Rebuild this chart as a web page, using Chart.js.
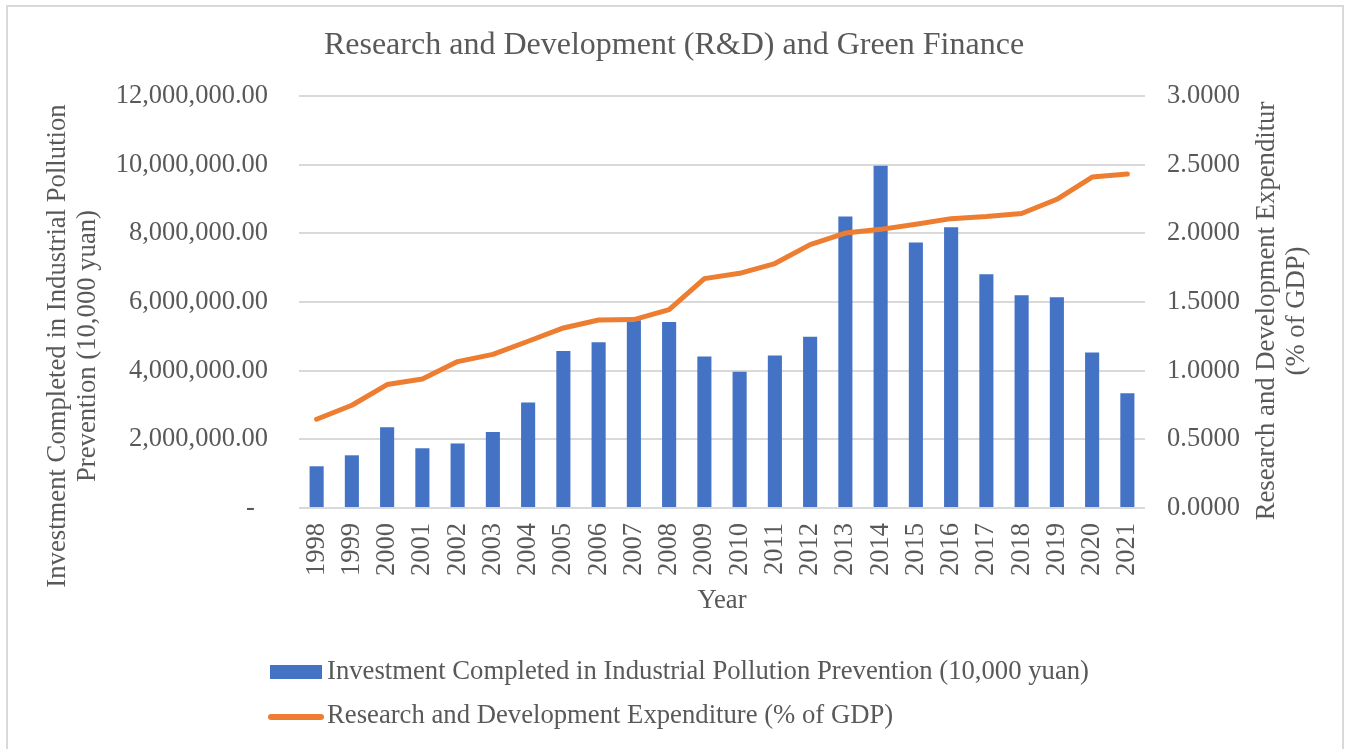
<!DOCTYPE html>
<html>
<head>
<meta charset="utf-8">
<title>Research and Development (R&D) and Green Finance</title>
<script src="https://cdn.jsdelivr.net/npm/chart.js@4/dist/chart.umd.min.js"></script>
<style>
  html, body { margin: 0; padding: 0; background: #ffffff; }
  #wrap { position: relative; width: 1348px; height: 749px; }
</style>
</head>
<body>
<div id="wrap"><canvas id="chart" width="1348" height="749"></canvas></div>
<script>
// Years on the category axis
const years = ['1998', '1999', '2000', '2001', '2002', '2003', '2004', '2005',
  '2006', '2007', '2008', '2009', '2010', '2011', '2012', '2013', '2014',
  '2015', '2016', '2017', '2018', '2019', '2020', '2021'];

// Investment completed in industrial pollution prevention (10,000 yuan)
const investment = [1215000, 1535000, 2350000, 1740000, 1880000, 2210000,
  3070000, 4570000, 4830000, 5470000, 5420000, 4410000, 3970000, 4440000,
  4990000, 8490000, 9970000, 7730000, 8180000, 6810000, 6200000, 6140000,
  4530000, 3340000];

// R&D expenditure (% of GDP)
const rdExpenditure = [0.646, 0.748, 0.899, 0.939, 1.066, 1.119, 1.214,
  1.311, 1.369, 1.372, 1.445, 1.670, 1.709, 1.780, 1.918, 2.002, 2.029,
  2.066, 2.107, 2.122, 2.144, 2.248, 2.410, 2.432];

const seriesNames = [
  'Investment Completed in Industrial Pollution Prevention (10,000 yuan)',
  'Research and Development Expenditure (% of GDP)'
];
const leftAxisTitle = ['Investment Completed in Industrial Pollution', 'Prevention (10,000 yuan)'];
const rightAxisTitle = ['Research and Development Expenditur', '(% of GDP)'];
const chartTitle = 'Research and Development (R&D) and Green Finance';
const xAxisTitle = 'Year';

const FONT = '"Liberation Serif", "Times New Roman", serif';
const TEXT = '#595959';
const BLUE = '#4472C4';
const ORANGE = '#ED7D31';
const GRID = '#d9d9d9';
const TICK_SIZE = 26.5;
const LABEL_SIZE = 26.7;

const numFmt = new Intl.NumberFormat('en-US', { minimumFractionDigits: 2, maximumFractionDigits: 2 });

// Frame, axis titles and the stacked legend drawn around the plot
const decorations = {
  id: 'decorations',
  beforeDraw(chart) {
    const ctx = chart.ctx;
    ctx.save();
    ctx.fillStyle = '#ffffff';
    ctx.fillRect(0, 0, chart.width, chart.height);
    ctx.strokeStyle = GRID;
    ctx.lineWidth = 2;
    ctx.strokeRect(7, 6, 1336, 770);
    ctx.restore();
  },
  afterDraw(chart) {
    const ctx = chart.ctx;
    ctx.save();
    ctx.fillStyle = TEXT;
    ctx.font = LABEL_SIZE + 'px ' + FONT;
    ctx.textAlign = 'center';
    ctx.textBaseline = 'middle';

    const drawRotated = (lines, xs, cy) => {
      lines.forEach((line, i) => {
        ctx.save();
        ctx.translate(xs[i], cy);
        ctx.rotate(-Math.PI / 2);
        ctx.fillText(line, 0, 0);
        ctx.restore();
      });
    };
    drawRotated(leftAxisTitle, [58, 88], 346);
    drawRotated(rightAxisTitle, [1267, 1297], 311);

    // legend rows
    ctx.textAlign = 'left';
    const rows = [672, 716];
    chart.data.datasets.slice().sort((a, b) => a.legendIndex - b.legendIndex).forEach((ds, i) => {
      const y = rows[i];
      if (ds.type === 'bar') {
        ctx.fillStyle = ds.backgroundColor;
        ctx.fillRect(270, y - 7, 52, 14);
      } else {
        ctx.strokeStyle = ds.borderColor;
        ctx.lineWidth = 6;
        ctx.lineCap = 'round';
        ctx.beginPath();
        ctx.moveTo(271, y + 1);
        ctx.lineTo(321, y + 1);
        ctx.stroke();
      }
      ctx.fillStyle = TEXT;
      ctx.fillText(ds.label, 327, y);
    });
    ctx.restore();
  }
};

new Chart(document.getElementById('chart'), {
  data: {
    labels: years,
    datasets: [
      {
        type: 'line',
        label: seriesNames[1],
        data: rdExpenditure,
        yAxisID: 'y1',
        borderColor: ORANGE,
        backgroundColor: ORANGE,
        borderWidth: 5,
        borderCapStyle: 'round',
        borderJoinStyle: 'round',
        pointRadius: 0,
        pointHoverRadius: 0,
        tension: 0,
        order: 0,
        legendIndex: 1
      },
      {
        type: 'bar',
        label: seriesNames[0],
        data: investment,
        yAxisID: 'y',
        backgroundColor: BLUE,
        borderWidth: 0,
        barPercentage: 0.4,
        categoryPercentage: 1.0,
        order: 1,
        legendIndex: 0
      }
    ]
  },
  options: {
    responsive: false,
    animation: false,
    devicePixelRatio: 1,
    layout: { padding: { left: 0, right: 0, top: 0, bottom: 129 } },
    plugins: {
      legend: { display: false },
      tooltip: { enabled: false },
      title: {
        display: true,
        text: chartTitle,
        color: TEXT,
        font: { family: FONT, size: 32, weight: 'normal', lineHeight: 1.2 },
        padding: { top: 26.8, bottom: 30.8 }
      }
    },
    scales: {
      x: {
        type: 'category',
        offset: true,
        grid: { display: false, drawTicks: false },
        border: { display: false },
        ticks: {
          color: TEXT,
          font: { family: FONT, size: TICK_SIZE },
          minRotation: 90,
          maxRotation: 90,
          autoSkip: false,
          padding: 15
        },
        title: {
          display: true,
          text: xAxisTitle,
          color: TEXT,
          font: { family: FONT, size: LABEL_SIZE, lineHeight: 1.2 },
          padding: { top: 0, bottom: 3 }
        },
        afterFit(scale) { scale.height = 112; }
      },
      y: {
        position: 'left',
        min: 0,
        max: 12000000,
        ticks: {
          stepSize: 2000000,
          color: TEXT,
          font: { family: FONT, size: TICK_SIZE },
          padding: 31,
          callback: (v) => v === 0 ? '-\u2002' : numFmt.format(v)
        },
        grid: { color: GRID, lineWidth: 2, drawTicks: false },
        border: { display: false },
        afterFit(scale) { scale.width = 299; }
      },
      y1: {
        position: 'right',
        min: 0,
        max: 3,
        ticks: {
          stepSize: 0.5,
          color: TEXT,
          font: { family: FONT, size: TICK_SIZE },
          padding: 22,
          callback: (v) => Number(v).toFixed(4)
        },
        grid: { display: false, drawTicks: false },
        border: { display: false },
        afterFit(scale) { scale.width = 203; }
      }
    }
  },
  plugins: [decorations]
});
</script>
</body>
</html>
